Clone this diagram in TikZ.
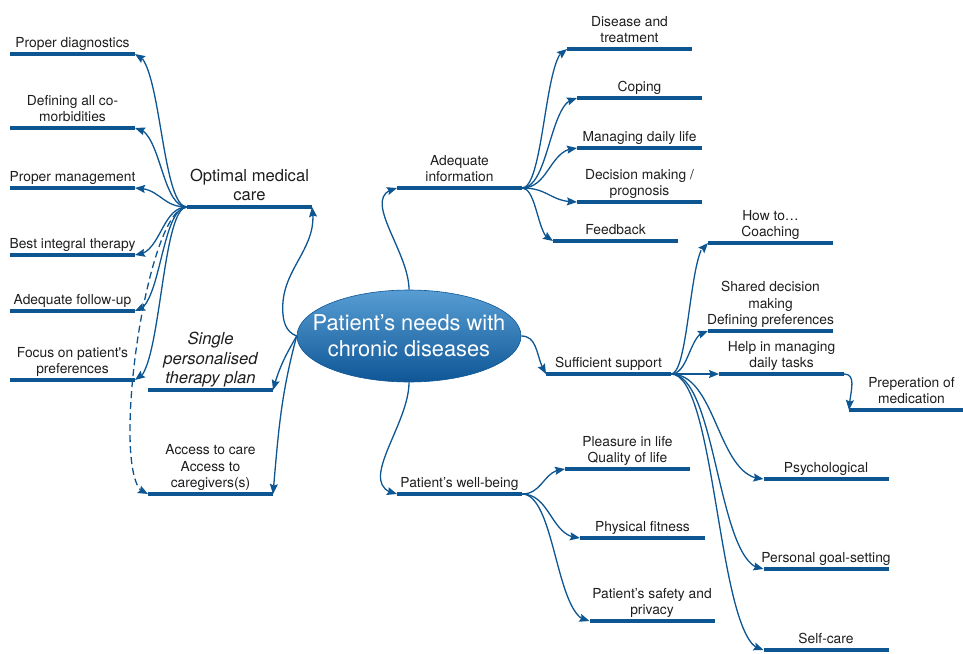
\documentclass[tikz,border=0pt]{standalone}
\usepackage{fontspec}
\setmainfont{TeX Gyre Heros}
\usetikzlibrary{shapes.geometric,arrows.meta,bending,calc}
\definecolor{mapblue}{RGB}{13,86,146}
\definecolor{hubtop}{RGB}{88,158,212}
\definecolor{hubbot}{RGB}{14,86,150}
\definecolor{ink}{RGB}{30,30,30}
\newcommand{\leaffont}{\fontsize{13.8}{16.5}\selectfont}
\newcommand{\branchfont}{\fontsize{16.6}{19.8}\selectfont}
\newcommand{\hubfont}{\fontsize{21.8}{26}\selectfont}

\begin{document}
\begin{tikzpicture}[x=1pt,y=1pt,
	bar/.style={fill=mapblue, minimum width=125pt, minimum height=4pt, inner sep=0pt, outer sep=0pt},
	txt/.style={align=center, text=ink, font=\leaffont, inner sep=0pt, inner ysep=1pt, text depth=3pt},
	big/.style={txt, font=\branchfont},
	hub/.style={ellipse, minimum width=224pt, minimum height=92pt, inner sep=0pt, top color=hubtop, bottom color=hubbot, draw=hubbot, line width=.6pt},
	hubtxt/.style={align=center, text=white, font=\hubfont},
	link/.style={draw=mapblue, line width=1.3pt, -{Stealth[length=10pt,width=8pt,inset=1.5pt]}},
	curvy/.style={to path={let \p1=(\tikztostart), \p2=(\tikztotarget) in
		.. controls ({(\x1+\x2)/2},\y1) and ({(\x1+\x2)/2},\y2) .. (\tikztotarget)}}]
	\useasboundingbox (0,0) rectangle (963,-653);
	\clip (0,0) rectangle (963,-653);

	\node[hub, label={[hubtxt]center:{Patient’s needs with\\chronic diseases}}] (hub) at (409,-336) {};

	\node[bar, label={[big]above:{Optimal medical\\care}}] (omc) at (249.5,-207) {};
	\node[bar, label={[big,font=\branchfont\itshape]above:{Single\\personalised\\therapy plan}}] (plan) at (210.5,-390) {};
	\node[bar, label={[txt]above:{Access to care\\Access to\\caregivers(s)}}] (access) at (210.5,-494) {};
	\node[bar, label={[txt]above:{Adequate\\information}}] (info) at (459.5,-188) {};
	\node[bar, label={[txt]above:{Sufficient support}}] (support) at (608.5,-374) {};
	\node[bar, label={[txt]above:{Patient’s well-being}}] (wellb) at (459.5,-494) {};

	\node[bar, label={[txt]above:{Proper diagnostics}}] (diag) at (72.5,-54) {};
	\node[bar, label={[txt]above:{Defining all co-\\morbidities}}] (comorb) at (72.5,-128) {};
	\node[bar, label={[txt]above:{Proper management}}] (manage) at (72.5,-188) {};
	\node[bar, label={[txt]above:{Best integral therapy}}] (integ) at (72.5,-255) {};
	\node[bar, label={[txt]above:{Adequate follow-up}}] (follow) at (72.5,-311) {};
	\node[bar, label={[txt]above:{Focus on patient\textquotesingle s\\preferences}}] (focus) at (72.5,-380) {};

	\node[bar, label={[txt]above:{Disease and\\treatment}}] (disease) at (629.5,-49) {};
	\node[bar, label={[txt]above:{Coping}}] (coping) at (639.5,-98) {};
	\node[bar, label={[txt]above:{Managing daily life}}] (daily) at (639.5,-148) {};
	\node[bar, label={[txt]above:{Decision making /\\prognosis}}] (decide) at (639.5,-202) {};
	\node[bar, label={[txt]above:{Feedback}}] (feedb) at (615.5,-241) {};

	\node[bar, label={[txt]above:{How to…\\Coaching}}] (coach) at (770.5,-243) {};
	\node[bar, label={[txt]above:{Shared decision\\making\\Defining preferences}}] (shared) at (770.5,-331) {};
	\node[bar, label={[txt]above:{Help in managing\\daily tasks}}] (tasks) at (781.5,-374) {};
	\node[bar, label={[txt]above:{Preperation of\\medication}}] (medic) at (911.5,-410) {};
	\node[bar, label={[txt]above:{Psychological}}] (psych) at (826,-479) {};
	\node[bar, label={[txt]above:{Personal goal-setting}}] (goals) at (826,-569) {};
	\node[bar, label={[txt]above:{Self-care}}] (selfc) at (826,-650) {};

	\node[bar, label={[txt]above:{Pleasure in life\\Quality of life}}] (pleas) at (627.5,-469) {};
	\node[bar, label={[txt]above:{Physical fitness}}] (fitn) at (642.5,-538) {};
	\node[bar, label={[txt]above:{Patient’s safety and\\privacy}}] (safety) at (652,-621) {};

	\draw[link] (hub.west) to[out=160,in=-90] +(-14,28) to[out=90,in=-80] (omc.east);
	\draw[link] (hub.west) to[out=-120,in=75] (plan.east);
	\draw[link] (hub.west) to[out=-105,in=85] (access.east);
	\draw[link] (hub.north) to[out=90,in=190] (info.west);
	\draw[link] (hub.south) to[out=-90,in=170] (wellb.west);
	\draw[link] (hub.east) to[out=0,in=125] (support.west);

	\draw[link] (omc.west) to[curvy] (diag.east);
	\draw[link] (omc.west) to[curvy] (comorb.east);
	\draw[link] (omc.west) to[curvy] (manage.east);
	\draw[link] (omc.west) to[curvy] (integ.east);
	\draw[link] (omc.west) to[curvy] (follow.east);
	\draw[link] (omc.west) to[curvy] (focus.east);
	\draw[link,dash pattern=on 7pt off 4pt] (omc.west) to[out=180,in=180,distance=42pt] (access.west);

	\draw[link] (info.east) to[curvy] (disease.west);
	\draw[link] (info.east) to[curvy] (coping.west);
	\draw[link] (info.east) to[curvy] (daily.west);
	\draw[link] (info.east) to[curvy] (decide.west);
	\draw[link] (info.east) to[curvy] (feedb.west);

	\draw[link] (support.east) to[curvy] (coach.west);
	\draw[link] (support.east) to[curvy] (shared.west);
	\draw[link] (support.east) -- (tasks.west);
	\draw[link] (tasks.east) to[out=0,in=90] (medic.west);
	\draw[link] (support.east) to[curvy] (psych.west);
	\draw[link] (support.east) to[curvy] (goals.west);
	\draw[link] (support.east) to[curvy] (selfc.west);

	\draw[link] (wellb.east) to[curvy] (pleas.west);
	\draw[link] (wellb.east) to[curvy] (fitn.west);
	\draw[link] (wellb.east) to[curvy] (safety.west);
\end{tikzpicture}
\end{document}
